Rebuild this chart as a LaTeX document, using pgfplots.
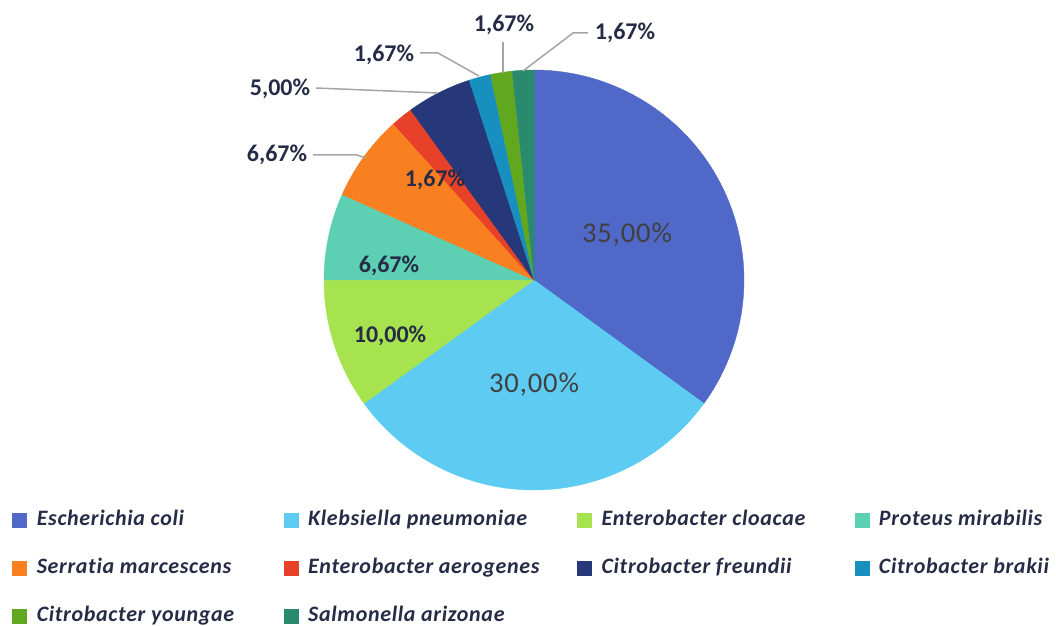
\documentclass[border=0pt]{standalone}
\usepackage{pgfplots}
\pgfplotsset{compat=1.18}
\usepackage{fontspec}
\setmainfont[Ligatures=NoCommon]{Carlito}
\newfontfamily\bigfont[LetterSpace=3,Ligatures=NoCommon]{Carlito}
\newfontfamily\legfont[LetterSpace=3,Ligatures=NoCommon]{Carlito}
\definecolor{cEcoli}{HTML}{5068C8}
\definecolor{cKleb}{HTML}{5DCBF2}
\definecolor{cCloa}{HTML}{A6E34F}
\definecolor{cProt}{HTML}{5DCFB3}
\definecolor{cSerr}{HTML}{F98020}
\definecolor{cAero}{HTML}{E8412A}
\definecolor{cFreu}{HTML}{26387A}
\definecolor{cBrak}{HTML}{1890BF}
\definecolor{cYoun}{HTML}{62A81E}
\definecolor{cSalm}{HTML}{2A8A6E}
\definecolor{lbl}{HTML}{262C46}
\definecolor{big}{HTML}{404040}
\definecolor{lead}{HTML}{A5A5A5}
\newcommand\cum{90}
\newcommand\slice[4]{%
  \pgfmathsetmacro\sa{\cum}%
  \pgfmathsetmacro\sb{\cum-3.6*#1}%
  \xdef\cum{\sb}%
  \edef\doslice{\noexpand\addplot[fill=#2, draw=#2, line width=0.2pt, domain=\sb:\sa, samples=80, variable=\noexpand\t] ({534+210*cos(\noexpand\t)},{280-210*sin(\noexpand\t)}) -- (axis cs:534,280) -- cycle;}%
  \doslice
  \addlegendentry{\makebox[#4][l]{#3}}%
}
\begin{document}
\begin{tikzpicture}
\begin{axis}[
  scale only axis, width=528pt, height=312.5pt,
  xmin=0, xmax=1056, ymin=0, ymax=625, y dir=reverse,
  hide axis, clip=false,
  legend columns=4,
  legend image code/.code={\fill[#1] (0pt,-3.5pt) rectangle (7pt,3.5pt);},
  legend style={draw=none, fill=none, inner sep=0pt, at={(axis cs:12,511)}, anchor=north west,
    font=\fontsize{11}{13}\legfont\bfseries\itshape, text=lbl,
    row sep=15pt,
    nodes={inner sep=0pt, text height=7pt, text depth=2pt},
    /tikz/every odd column/.append style={column sep=5pt}},
]
\addplot[draw=none, forget plot] coordinates {(0,0) (1056,625)};
\slice{35}{cEcoli}{Escherichia coli}{123.5pt}
\slice{30}{cKleb}{Klebsiella pneumoniae}{134.5pt}
\slice{10}{cCloa}{Enterobacter cloacae}{126.5pt}
\slice{6.67}{cProt}{Proteus mirabilis}{70pt}
\slice{6.67}{cSerr}{Serratia marcescens}{123.5pt}
\slice{1.67}{cAero}{Enterobacter aerogenes}{134.5pt}
\slice{5}{cFreu}{Citrobacter freundii}{126.5pt}
\slice{1.67}{cBrak}{Citrobacter brakii}{70pt}
\slice{1.67}{cYoun}{Citrobacter youngae}{123.5pt}
\slice{1.67}{cSalm}{Salmonella arizonae}{134.5pt}
% leader lines
\addplot[lead, line width=0.75pt, forget plot] coordinates {(313,155) (357,155) (366,158)};
\addplot[lead, line width=0.75pt, forget plot] coordinates {(316,88) (438,93)};
\addplot[lead, line width=0.75pt, forget plot] coordinates {(420,53) (438,53) (479,76)};
\addplot[lead, line width=0.75pt, forget plot] coordinates {(503,42) (503,73)};
\addplot[lead, line width=0.75pt, forget plot] coordinates {(588,33) (573,33) (523,71)};
% labels
\node[text=big, font=\fontsize{14.3}{16}\bigfont] at (axis cs:627,235) {35,00\%};
\node[text=big, font=\fontsize{14.3}{16}\bigfont] at (axis cs:534,385) {30,00\%};
\begin{scope}[every node/.style={text=lbl, font=\fontsize{12}{14}\selectfont\bfseries}]
\node at (axis cs:390,336) {10,00\%};
\node at (axis cs:389,266) {6,67\%};
\node at (axis cs:277,155) {6,67\%};
\node at (axis cs:435,180) {1,67\%};
\node at (axis cs:280,89) {5,00\%};
\node at (axis cs:384,55) {1,67\%};
\node at (axis cs:504,25) {1,67\%};
\node at (axis cs:625,33) {1,67\%};
\end{scope}
\end{axis}
\end{tikzpicture}
\end{document}
